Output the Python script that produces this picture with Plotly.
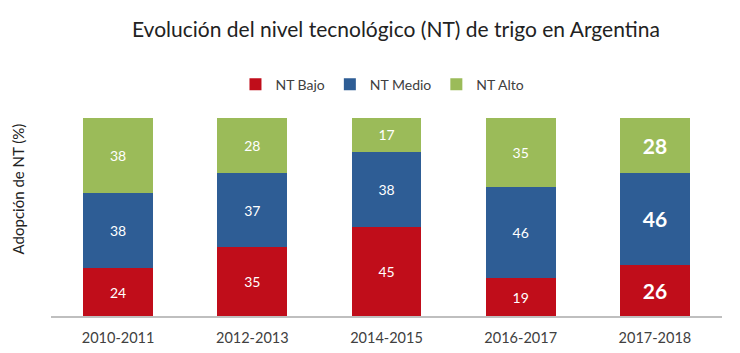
import plotly.graph_objects as go

categories = ["2010-2011", "2012-2013", "2014-2015", "2016-2017", "2017-2018"]
nt_bajo = [24, 35, 45, 19, 26]
nt_medio = [38, 37, 38, 46, 46]
nt_alto = [38, 28, 17, 35, 28]

series = [
    ("NT Bajo", nt_bajo, "#C00D1A"),
    ("NT Medio", nt_medio, "#2E5D95"),
    ("NT Alto", nt_alto, "#9BBB59"),
]

fig = go.Figure()
n = len(categories)
for name, vals, color in series:
    texts = [f"<b>{v}</b>" if i == n - 1 else str(v) for i, v in enumerate(vals)]
    sizes = [21 if i == n - 1 else 14 for i in range(n)]
    fig.add_trace(go.Bar(
        name=name, x=categories, y=vals, marker_color=color,
        marker_line_width=0,
        text=texts, textposition="inside", insidetextanchor="middle",
        textfont=dict(color="white", size=sizes, family="Lato, Open Sans, sans-serif"),
        hoverinfo="skip",
    ))

fig.add_annotation(text="Adopción de NT (%)", textangle=-90,
                   xref="paper", yref="paper", x=-0.049, y=0.64,
                   xanchor="center", yanchor="middle", showarrow=False,
                   font=dict(size=15, color="#222222"))

fig.update_layout(
    barmode="stack",
    bargap=0.48,
    width=740, height=353,
    margin=dict(l=51, r=18, t=118, b=37),
    paper_bgcolor="white", plot_bgcolor="white",
    font=dict(family="Lato, Open Sans, sans-serif", color="#404040"),
    title=dict(text="Evolución del nivel tecnológico (NT) de trigo en Argentina",
               x=0.535, xanchor="center", y=0.915, yanchor="middle",
               font=dict(size=21, color="#222222")),
    legend=dict(orientation="h", x=0.494, xanchor="center", y=1.168, yanchor="middle",
                font=dict(size=14, color="#404040"), traceorder="normal",
                itemwidth=30),
    showlegend=True,
)
fig.update_xaxes(showline=True, linecolor="#BFBFBF", linewidth=1.5, ticks="",
                 tickfont=dict(size=14.5, color="#404040"), showgrid=False,
                 ticklabelstandoff=8, automargin=False)
fig.update_yaxes(range=[0, 100], showticklabels=False, showgrid=False, zeroline=False,
                 automargin=False)

fig.write_html("out.html")
